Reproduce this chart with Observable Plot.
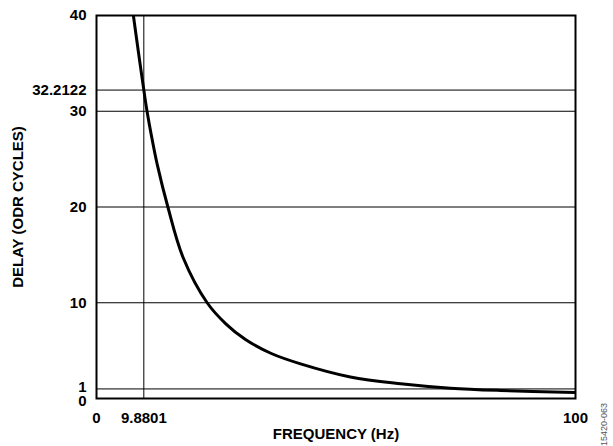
<!DOCTYPE html>
<html>
<head>
<meta charset="utf-8">
<script src="https://cdn.jsdelivr.net/npm/d3@7"></script>
<script src="https://cdn.jsdelivr.net/npm/@observablehq/plot@0.6"></script>
<style>
  html, body { margin: 0; padding: 0; background: #fff; }
  #chart { position: relative; width: 613px; height: 446px; }
  #code { position: absolute; left: 599px; top: 446px; transform-origin: 0 0; transform: rotate(-90deg);
          font: 9px "Liberation Sans", Arial, sans-serif; color: #555; white-space: nowrap; }
</style>
</head>
<body>
<div id="chart"><div id="code">15420-063</div></div>
<script>
// Data
const frequency = [7.7, 8.8, 9.8801, 10.55, 11.6, 12.7, 14.9, 18.1, 23.1, 27.0, 31.1, 36.5, 42.6, 53.0, 63.5, 73.9, 84.3, 100];
const delay     = [40, 36.0, 32.2122, 30, 27.1, 24.4, 20, 14.7, 10, 7.8, 6.16, 4.7, 3.62, 2.25, 1.54, 1.08, 0.84, 0.63];
const xTicks = [0, 9.8801, 100];
const xTickLabels = ["0", "9.8801", "100"];
const yTicks = [10, 20, 30, 32.2122, 40];
const yTickLabels = ["10", "20", "30", "32.2122", "40"];
const yTickOne = [1];
const yTickZero = [0];
const hGrid = [1, 10, 20, 30, 32.2122];
const vGrid = [9.8801];
const xTitle = "FREQUENCY (Hz)";
const yTitle = "DELAY (ODR CYCLES)";

const curve = frequency.map((f, i) => ({f, d: delay[i]}));
const font = "'Liberation Sans', Arial, Helvetica, sans-serif";
const fs = 15;

const chart = Plot.plot({
  width: 613,
  height: 446,
  marginLeft: 96,
  marginRight: 38,
  marginTop: 15,
  marginBottom: 48,
  style: {fontFamily: font, fontWeight: "bold", fontSize: fs + "px", color: "#000", background: "transparent"},
  x: {domain: [0, 100]},
  y: {domain: [0, 40]},
  marks: [
    Plot.ruleY(hGrid, {stroke: "#000", strokeWidth: 1}),
    Plot.ruleX(vGrid, {stroke: "#000", strokeWidth: 1}),
    Plot.line(curve, {x: "f", y: "d", curve: "catmull-rom", stroke: "#000", strokeWidth: 3, clip: true}),
    Plot.frame({stroke: "#000", strokeWidth: 2}),
    Plot.axisX({ticks: xTicks, tickFormat: (d) => xTickLabels[xTicks.indexOf(d)], tickSize: 0, tickPadding: 14, label: null, fontSize: fs, fontWeight: "bold"}),
    Plot.axisY({ticks: yTicks, tickFormat: (d) => yTickLabels[yTicks.indexOf(d)], tickSize: 0, tickPadding: 10, label: null, fontSize: fs, fontWeight: "bold"}),
    Plot.axisY({ticks: yTickOne, tickFormat: (d) => String(d), tickSize: 0, tickPadding: 10, label: null, fontSize: fs, fontWeight: "bold", dy: -2}),
    Plot.axisY({ticks: yTickZero, tickFormat: (d) => String(d), tickSize: 0, tickPadding: 10, label: null, fontSize: fs, fontWeight: "bold", dy: 3}),
    Plot.text([xTitle], {frameAnchor: "bottom", textAnchor: "middle", lineAnchor: "middle", dy: 36, fontSize: fs, fontWeight: "bold"}),
    Plot.text([yTitle], {frameAnchor: "left", textAnchor: "middle", lineAnchor: "middle", dx: -78, rotate: -90, fontSize: fs, fontWeight: "bold"})
  ]
});
document.getElementById("chart").prepend(chart);
</script>
</body>
</html>
